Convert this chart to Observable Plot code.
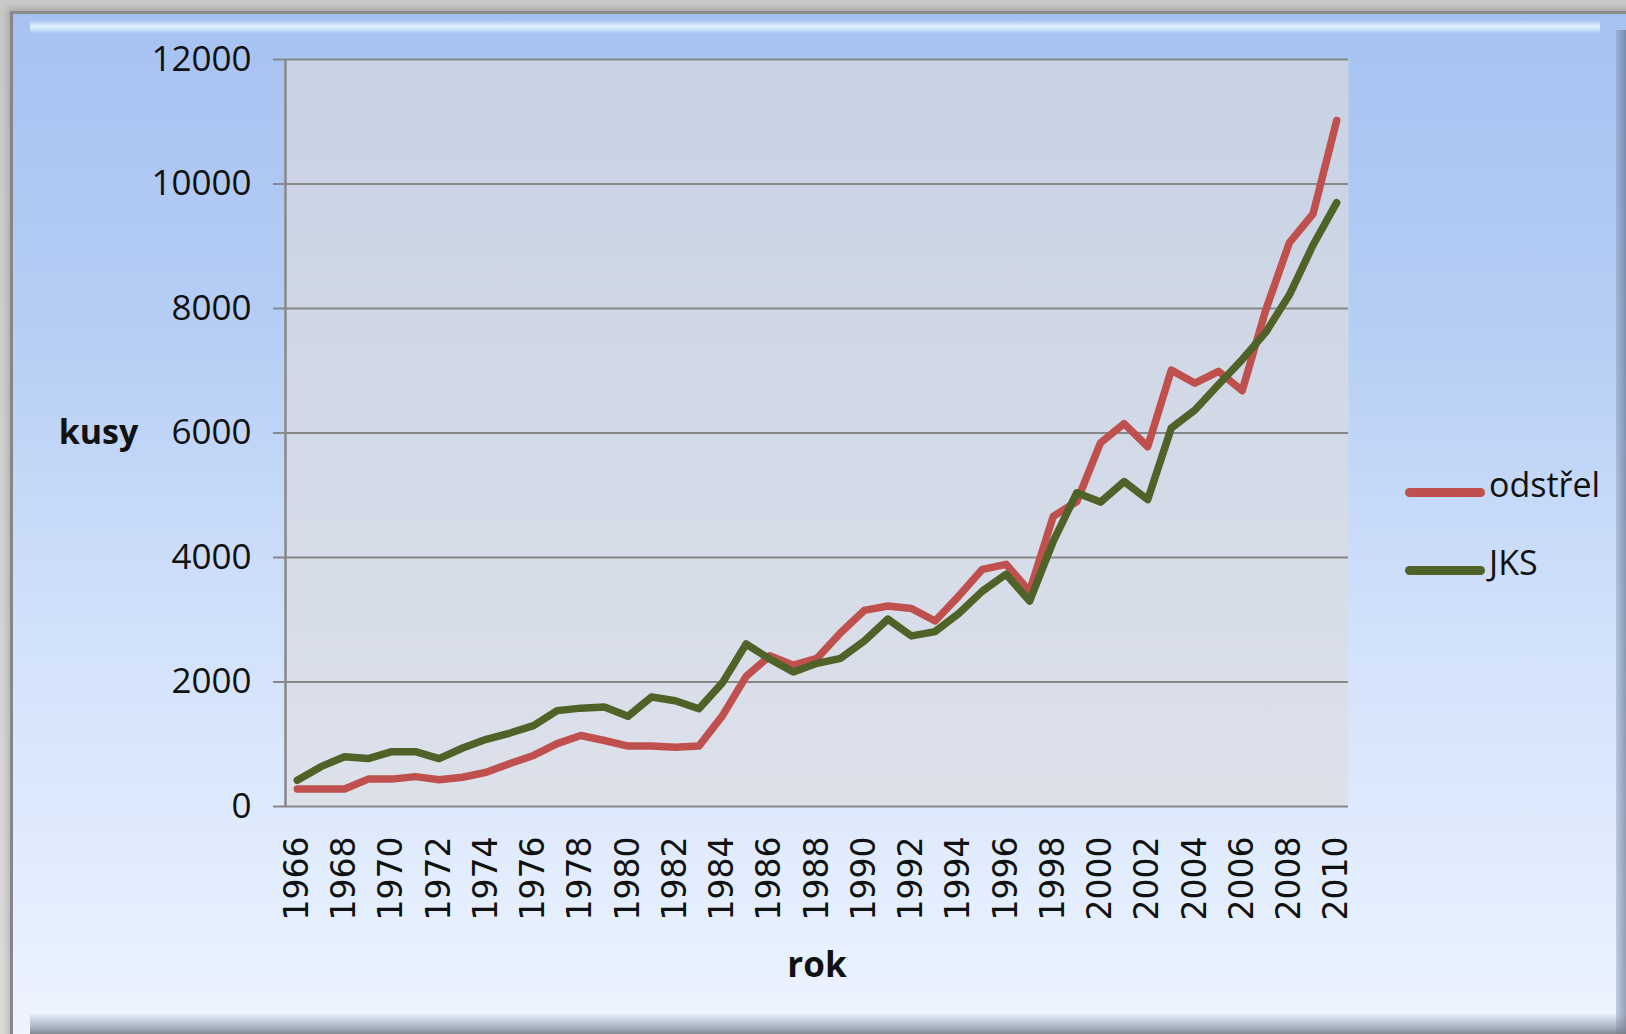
<!DOCTYPE html>
<html>
<head>
<meta charset="utf-8">
<script src="https://cdn.jsdelivr.net/npm/d3@7"></script>
<script src="https://cdn.jsdelivr.net/npm/@observablehq/plot@0.6"></script>
<style>
  html, body { margin: 0; padding: 0; }
  body { width: 1626px; height: 1034px; overflow: hidden; position: relative;
         background: linear-gradient(to bottom, #c8c8c8, #dcdcdc); }
  #panel { position: absolute; left: 10px; top: 11px; width: 1640px; height: 1040px;
           border-left: 3px solid #878787; border-top: 3px solid #8a8a8a;
           background: linear-gradient(to bottom, #a6c2f1 0%, #b6cef5 30%, #d2e2fb 60%, #eef5ff 100%);
           box-shadow: -3px -3px 6px rgba(0,0,0,0.15); }
  #hl { position: absolute; left: 30px; top: 20px; width: 1570px; height: 14px;
        background: linear-gradient(to bottom, rgba(255,255,255,0), rgba(225,245,255,0.95) 45%, rgba(255,255,255,0)); }
  #rb { position: absolute; left: 1616px; top: 30px; width: 10px; height: 1004px;
        background: linear-gradient(to right, rgba(120,140,170,0.35), rgba(90,105,130,0.6)); }
  #bb { position: absolute; left: 30px; top: 1014px; width: 1596px; height: 20px;
        background: linear-gradient(to bottom, rgba(170,180,200,0.1), rgba(120,130,150,0.6) 70%, rgba(120,125,135,0.9)); }
  #chart { position: absolute; left: 0; top: 0; }
  #chart svg { background: transparent; }
  .legend { position: absolute; left: 1405px; font-family: "Open Sans", sans-serif; font-size: 34px; color: #111; }
  .legend .sw { position: absolute; left: 0; width: 80px; height: 9px; border-radius: 5px; }
  .legend .lb { position: absolute; left: 84px; white-space: nowrap; }
</style>
</head>
<body>
<div id="panel"></div>
<div id="hl"></div>
<div id="rb"></div>
<div id="bb"></div>
<div id="chart"></div>
<div class="legend" style="top:488px"><div class="sw" style="top:0;background:#c0504d"></div><div class="lb" style="top:-27px">odstřel</div></div>
<div class="legend" style="top:566px"><div class="sw" style="top:0;background:#4f6228"></div><div class="lb" style="top:-27px">JKS</div></div>
<script>
const years = [1966,1967,1968,1969,1970,1971,1972,1973,1974,1975,1976,1977,1978,1979,1980,1981,1982,1983,1984,1985,1986,1987,1988,1989,1990,1991,1992,1993,1994,1995,1996,1997,1998,1999,2000,2001,2002,2003,2004,2005,2006,2007,2008,2009,2010];
const odstrel = [280,280,280,440,440,480,430,470,550,690,820,1010,1140,1060,970,970,950,970,1460,2090,2420,2270,2380,2790,3150,3220,3180,2980,3380,3810,3890,3460,4660,4900,5840,6150,5780,7010,6800,6990,6680,7980,9060,9520,11020];
const jks = [420,640,800,770,880,880,770,940,1080,1180,1300,1540,1580,1600,1450,1760,1700,1570,1990,2610,2370,2160,2300,2380,2660,3010,2740,2810,3100,3460,3730,3300,4260,5040,4890,5220,4930,6080,6370,6780,7180,7620,8220,9020,9700];
const seriesNames = ["odstřel", "JKS"];
const seriesColors = ["#c0504d", "#4f6228"];
const yTicks = [0,2000,4000,6000,8000,10000,12000];
const xTicks = [1966,1968,1970,1972,1974,1976,1978,1980,1982,1984,1986,1988,1990,1992,1994,1996,1998,2000,2002,2004,2006,2008,2010];
const yTitle = "kusy";
const xTitle = "rok";

const data = [];
years.forEach((yr, i) => {
  data.push({year: yr, value: odstrel[i], series: seriesNames[0]});
});
years.forEach((yr, i) => {
  data.push({year: yr, value: jks[i], series: seriesNames[1]});
});
const xDomain = [years[0] - 0.5, years[years.length - 1] + 0.5];

const chart = Plot.plot({
  width: 1626,
  height: 1034,
  marginLeft: 285,
  marginRight: 278,
  marginTop: 59,
  marginBottom: 228,
  style: {background: "transparent", color: "#111", overflow: "visible"},
  x: {domain: xDomain, axis: null},
  y: {domain: [0, 12000], axis: null},
  color: {domain: seriesNames, range: seriesColors},
  marks: [
    Plot.frame({fill: "url(#plotbg)", stroke: "none"}),
    Plot.gridY(yTicks, {stroke: "#878787", strokeOpacity: 1, strokeWidth: 2}),
    Plot.ruleX([xDomain[0]], {stroke: "#888", strokeWidth: 2.5}),
    Plot.axisY(yTicks, {label: null, tickSize: 12, tickPadding: 22, tickFormat: d => String(d), stroke: "#888", strokeWidth: 2, fontSize: 35, fontFamily: "Open Sans", fill: "#111"}),
    Plot.axisX(xTicks, {label: null, tickSize: 0, tickPadding: 30, tickRotate: -90, tickFormat: d => String(d), fontSize: 33, fontFamily: "DejaVu Sans", fill: "#111"}),
    Plot.text([yTitle], {frameAnchor: "left", dx: -187, text: d => d, fontWeight: "bold", fontSize: 34, fontFamily: "Open Sans", textAnchor: "middle"}),
    Plot.text([xTitle], {frameAnchor: "bottom", dy: 170, text: d => d, fontWeight: "bold", fontSize: 35, fontFamily: "Open Sans", textAnchor: "middle"}),
    Plot.line(data, {x: "year", y: "value", stroke: "series", z: "series", strokeWidth: 7.5, strokeLinejoin: "round", strokeLinecap: "round"})
  ]
});

const defs = d3.create("svg:defs");
const g = defs.append("linearGradient").attr("id", "plotbg").attr("x1", 0).attr("y1", 0).attr("x2", 0).attr("y2", 1);
g.append("stop").attr("offset", "0%").attr("stop-color", "#c8d2e4");
g.append("stop").attr("offset", "100%").attr("stop-color", "#dde1ea");
chart.insertBefore(defs.node(), chart.firstChild);

document.getElementById("chart").appendChild(chart);
</script>
</body>
</html>
